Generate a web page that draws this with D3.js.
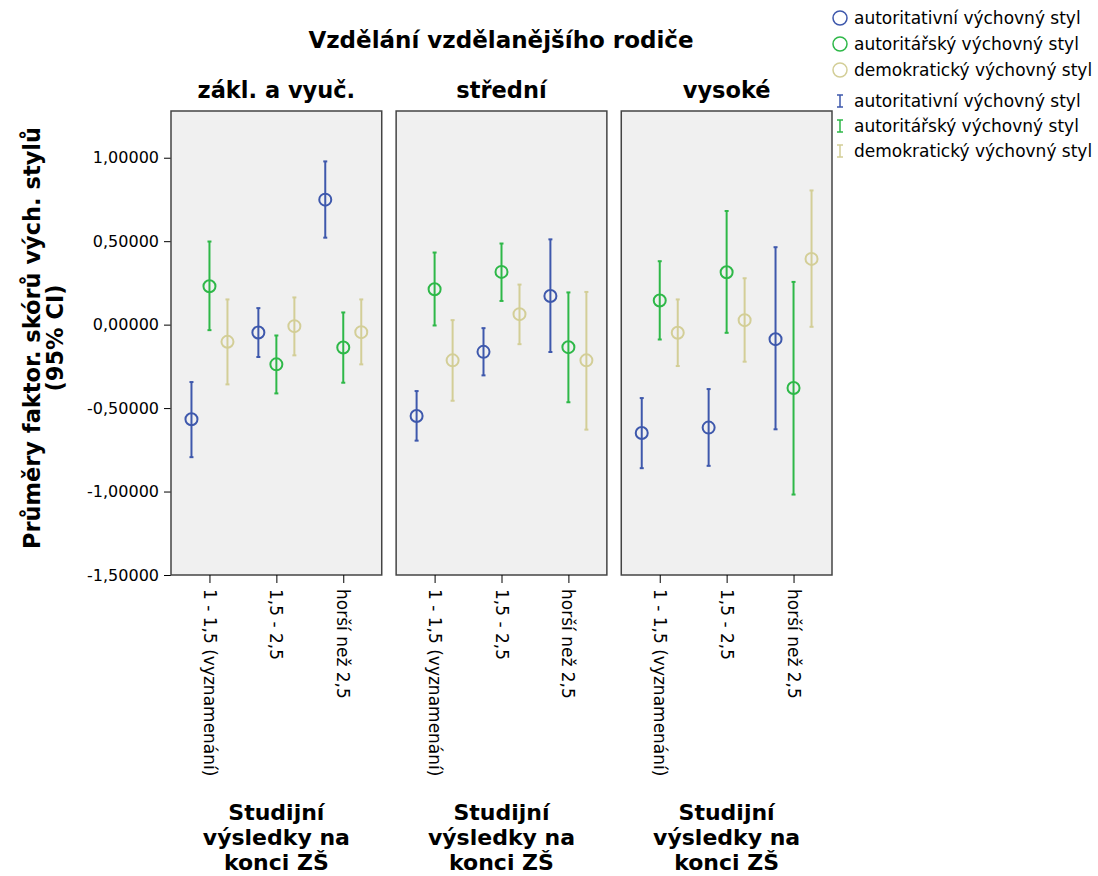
<!DOCTYPE html>
<html>
<head>
<meta charset="utf-8">
<script src="https://cdn.jsdelivr.net/npm/d3@7"></script>
<style>
body { margin: 0; background: #fff; }
text { font-family: "DejaVu Sans", Verdana, sans-serif; }
</style>
</head>
<body>
<div class="chart"></div>
<script>
const panels = ['zákl. a vyuč.', 'střední', 'vysoké'];
const categories = ['1 - 1,5 (vyznamenání)', '1,5 - 2,5', 'horší než 2,5'];
const series = ['autoritativní výchovný styl', 'autoritářský výchovný styl', 'demokratický výchovný styl'];
const colors = ['#3e58ac', '#2eb848', '#d3ce97'];
const yTicks = [-1.5, -1, -0.5, 0, 0.5, 1];

// [panel][category]
const meanAutoritativni = [[-0.567, -0.047, 0.749], [-0.547, -0.163, 0.172], [-0.649, -0.617, -0.087]];
const lowAutoritativni = [[-0.794, -0.194, 0.521], [-0.695, -0.304, -0.164], [-0.860, -0.846, -0.627]];
const highAutoritativni = [[-0.344, 0.099, 0.978], [-0.398, -0.021, 0.511], [-0.440, -0.386, 0.464]];

const meanAutoritarsky = [[0.230, -0.238, -0.137], [0.212, 0.316, -0.135], [0.145, 0.314, -0.380]];
const lowAutoritarsky = [[-0.033, -0.412, -0.348], [-0.005, 0.142, -0.465], [-0.089, -0.049, -1.018]];
const highAutoritarsky = [[0.498, -0.065, 0.073], [0.432, 0.486, 0.193], [0.380, 0.681, 0.256]];

const meanDemokraticky = [[-0.103, -0.009, -0.045], [-0.214, 0.063, -0.214], [-0.049, 0.027, 0.394]];
const lowDemokraticky = [[-0.358, -0.184, -0.238], [-0.456, -0.117, -0.629], [-0.248, -0.222, -0.013]];
const highDemokraticky = [[0.151, 0.163, 0.151], [0.027, 0.240, 0.196], [0.151, 0.278, 0.804]];

const means = [meanAutoritativni, meanAutoritarsky, meanDemokraticky];
const lows = [lowAutoritativni, lowAutoritarsky, lowDemokraticky];
const highs = [highAutoritativni, highAutoritarsky, highDemokraticky];

const rows = [];
panels.forEach((p, pi) => {
  categories.forEach((c, ci) => {
    series.forEach((s, si) => {
      rows.push({panel: p, cat: c, series: s, si: si,
        mean: means[si][pi][ci], low: lows[si][pi][ci], high: highs[si][pi][ci]});
    });
  });
});

const w = 1098, h = 876;
const svg = d3.select('.chart').append('svg').attr('width', w).attr('height', h);

const panelX = d3.scaleBand().domain(panels).range([171, 832]).paddingInner(0.064);
const y = d3.scaleLinear().domain([-1.5, 1.28]).range([575, 111]);
const x = d3.scalePoint().domain(categories).range([0, panelX.bandwidth()]).padding(0.575);
const offset = d3.scalePoint().domain(series).range([-18, 18]);
const color = d3.scaleOrdinal().domain(series).range(colors);

const locale = d3.formatLocale({decimal: ',', thousands: ' ', grouping: [3], currency: ['', ''], minus: '-'});
const fmt = locale.format('.5f');

// main title
svg.append('text')
  .attr('x', 501).attr('y', 48)
  .attr('text-anchor', 'middle')
  .attr('font-size', 23).attr('font-weight', 'bold')
  .text('Vzdělání vzdělanějšího rodiče');

// y axis title
const yt = svg.append('text')
  .attr('transform', 'translate(40,338) rotate(-90)')
  .attr('text-anchor', 'middle')
  .attr('font-size', 22.5).attr('font-weight', 'bold');
yt.append('tspan').attr('x', 0).attr('dy', 0).text('Průměry faktor. skórů vých. stylů');
yt.append('tspan').attr('x', 0).attr('dy', 23).text('(95% CI)');

// y axis on first panel
svg.append('g')
  .attr('transform', `translate(${panelX(panels[0])},0)`)
  .call(d3.axisLeft(y).tickValues(yTicks).tickFormat(fmt).tickSize(7).tickPadding(5))
  .call(g => g.select('.domain').remove())
  .call(g => g.selectAll('line').attr('stroke', '#000'))
  .call(g => g.selectAll('text').attr('font-size', 16).attr('fill', '#000').attr('font-family', '"DejaVu Sans", Verdana, sans-serif'));

const pg = svg.selectAll('g.panel')
  .data(panels)
  .enter()
  .append('g')
  .attr('class', 'panel')
  .attr('transform', d => `translate(${panelX(d)},0)`);

pg.append('rect')
  .attr('x', 0).attr('y', 111)
  .attr('width', panelX.bandwidth()).attr('height', 464)
  .attr('fill', '#f0f0f0')
  .attr('stroke', '#444').attr('stroke-width', 1.5);

pg.append('text')
  .attr('x', panelX.bandwidth() / 2).attr('y', 98)
  .attr('text-anchor', 'middle')
  .attr('font-size', 22.5).attr('font-weight', 'bold')
  .text(d => d);

// x axis
pg.append('g')
  .attr('transform', 'translate(0,575)')
  .call(d3.axisBottom(x).tickSize(8).tickFormat(''))
  .call(g => g.select('.domain').remove())
  .call(g => g.selectAll('line').attr('stroke', '#000'));

pg.selectAll('text.tick-label')
  .data(categories)
  .enter()
  .append('text')
  .attr('class', 'tick-label')
  .attr('transform', d => `translate(${x(d)},589) rotate(90)`)
  .attr('dy', '0.35em')
  .attr('font-size', 17)
  .text(d => d);

const xt = pg.append('text')
  .attr('x', panelX.bandwidth() / 2).attr('y', 820)
  .attr('text-anchor', 'middle')
  .attr('font-size', 22).attr('font-weight', 'bold');
xt.append('tspan').attr('x', panelX.bandwidth() / 2).attr('dy', 0).text('Studijní');
xt.append('tspan').attr('x', panelX.bandwidth() / 2).attr('dy', 25).text('výsledky na');
xt.append('tspan').attr('x', panelX.bandwidth() / 2).attr('dy', 25).text('konci ZŠ');

// error bars and points
const marks = pg.selectAll('g.mark')
  .data(p => rows.filter(r => r.panel === p))
  .enter()
  .append('g')
  .attr('class', 'mark')
  .attr('transform', d => `translate(${x(d.cat) + offset(d.series)},0)`);

marks.append('line')
  .attr('x1', 0).attr('x2', 0)
  .attr('y1', d => y(d.low)).attr('y2', d => y(d.high))
  .attr('stroke', d => color(d.series)).attr('stroke-width', 2);

marks.selectAll('line.cap')
  .data(d => [d.low, d.high].map(v => ({v: v, s: d.series})))
  .enter()
  .append('line')
  .attr('class', 'cap')
  .attr('x1', -2).attr('x2', 2)
  .attr('y1', d => y(d.v)).attr('y2', d => y(d.v))
  .attr('stroke', d => color(d.s)).attr('stroke-width', 2);

marks.append('circle')
  .attr('cx', 0).attr('cy', d => y(d.mean))
  .attr('r', 6)
  .attr('fill', 'none')
  .attr('stroke', d => color(d.series)).attr('stroke-width', 2);

// legend
const legend = svg.append('g').attr('transform', 'translate(840,0)');
legend.selectAll('circle')
  .data(series)
  .enter()
  .append('circle')
  .attr('cx', 0).attr('cy', (d, i) => 18 + i * 26)
  .attr('r', 7)
  .attr('fill', 'none')
  .attr('stroke', d => color(d)).attr('stroke-width', 1.5);

legend.selectAll('text.lc')
  .data(series)
  .enter()
  .append('text')
  .attr('class', 'lc')
  .attr('x', 14).attr('y', (d, i) => 18 + i * 26)
  .attr('dy', '0.35em')
  .attr('font-size', 17)
  .text(d => d);

const eb = legend.selectAll('g.eb')
  .data(series)
  .enter()
  .append('g')
  .attr('class', 'eb')
  .attr('transform', (d, i) => `translate(0,${101 + i * 25})`);
eb.append('path')
  .attr('d', 'M-3,-6H3M0,-6V6M-3,6H3')
  .attr('fill', 'none')
  .attr('stroke', d => color(d)).attr('stroke-width', 1.5);
eb.append('text')
  .attr('x', 14).attr('y', 0)
  .attr('dy', '0.35em')
  .attr('font-size', 17)
  .text(d => d);
</script>
</body>
</html>
